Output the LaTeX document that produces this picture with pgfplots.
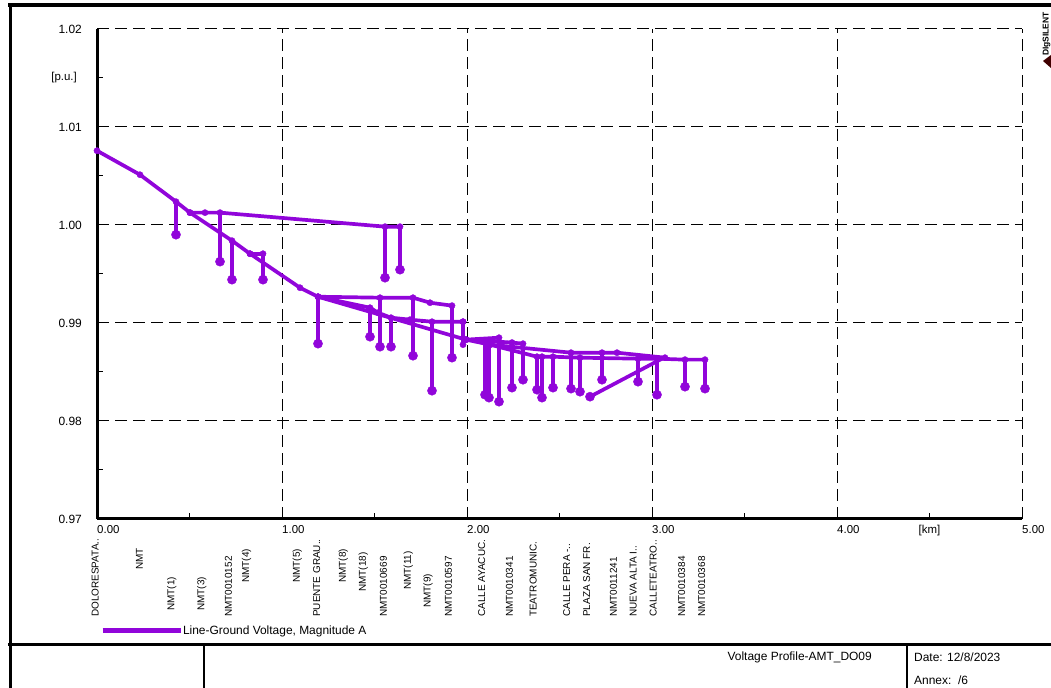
\documentclass[border=0pt]{standalone}
\usepackage{pgfplots}
\pgfplotsset{compat=1.18}
\usepackage{fontspec}
\setmainfont{Liberation Sans}
\definecolor{vcol}{RGB}{145,5,218}
\newcommand\tf{\fontsize{12}{14}\selectfont}
\newcommand\lf{\fontsize{10}{12}\selectfont}
\pgfplotsset{
  ln/.style={forget plot, color=vcol, line width=3.7bp, mark=*, mark size=3.1bp, mark options={line width=0.4bp, solid}},
  dp/.style={ln, mark indices={2}, mark size=4.6bp},
}
\begin{document}
\begin{tikzpicture}[x=1bp,y=1bp]
\useasboundingbox (0,0) rectangle (1051,688);
\begin{axis}[
  at={(97bp,169bp)}, anchor=south west,
  scale only axis, width=925bp, height=490bp,
  xmin=0, xmax=5, ymin=0.97, ymax=1.02,
  clip=false,
  axis x line*=bottom, axis y line*=left,
  axis line style={line width=3bp, black, -},
  xtick={0,1,2,3,4,5}, ytick={0.97,0.98,0.99,1.00,1.01,1.02},
  minor tick num=1,
  tick align=inside,
  major tick length=6bp, minor tick length=6bp,
  tick style={black, line width=1bp},
  xmajorgrids, ymajorgrids,
  major grid style={black, line width=1bp, dash pattern=on 12bp off 6bp},
  xticklabel style={/pgf/number format/fixed, /pgf/number format/fixed zerofill, /pgf/number format/precision=2, /pgf/number format/assume math mode=true, font=\fontsize{11.5}{13}\selectfont, anchor=north west, inner sep=0pt, yshift=-6bp},
  yticklabel style={/pgf/number format/fixed, /pgf/number format/fixed zerofill, /pgf/number format/precision=2, /pgf/number format/assume math mode=true, font=\tf, anchor=east, inner sep=0pt, xshift=-15bp},
  legend style={at={(axis description cs:0,0)}, anchor=west, xshift=3bp, yshift=-112bp, draw=none, fill=none, inner sep=0pt, outer sep=0pt, font=\tf, nodes={inner sep=0pt}, /tikz/every even column/.append style={column sep=5bp}},
  legend image code/.code={\draw[line width=5bp, vcol] (0bp,0bp) -- (78bp,0bp);},
]
% main lines
\addplot[ln] coordinates {(0,1.00758)(0.2324,1.00513)(0.4270,1.00238)(0.5027,1.00126)(0.7297,0.99840)(0.8270,0.99707)(1.0973,0.99360)(1.1946,0.99268)(1.9946,0.98830)(2.1243,0.98779)};
\addplot[ln] coordinates {(0.5027,1.00126)(0.5838,1.00126)(0.6649,1.00126)(1.5568,0.99983)(1.6378,0.99983)};
\addplot[ln] coordinates {(0.8270,0.99707)(0.8973,0.99707)};
\addplot[ln] coordinates {(1.1946,0.99268)(1.5297,0.99258)(1.7081,0.99258)(1.8,0.99207)(1.9189,0.99177)};
\addplot[ln] coordinates {(1.1946,0.99268)(1.4757,0.99156)(1.5189,0.99105)(1.5892,0.99054)(1.6919,0.99034)(1.8108,0.99013)(1.9784,0.99013)};
\addplot[ln] coordinates {(1.9946,0.98830)(2.1730,0.98850)};
\addplot[ln] coordinates {(1.9946,0.98830)(2.2432,0.98800)(2.3027,0.98789)};
\addplot[ln] coordinates {(2.1243,0.98779)(2.5622,0.98697)(2.7297,0.98697)(2.8108,0.98697)(3.0703,0.98646)};
\addplot[ln] coordinates {(2.1243,0.98779)(2.3784,0.98656)(2.4054,0.98656)(2.4649,0.98656)(2.6108,0.98646)(2.9243,0.98636)(3.0270,0.98636)(3.1784,0.98626)(3.2865,0.98626)};
\addplot[ln] coordinates {(1.9784,0.99013)(1.9784,0.98779)};
\addplot[dp] coordinates {(3.0541,0.98636)(2.6649,0.98248)};
% drops
\addplot[dp] coordinates {(0.4270,1.00238)(0.4270,0.99901)};
\addplot[dp] coordinates {(0.6649,1.00126)(0.6649,0.99626)};
\addplot[dp] coordinates {(0.7297,0.99840)(0.7297,0.99442)};
\addplot[dp] coordinates {(0.8973,0.99707)(0.8973,0.99442)};
\addplot[dp] coordinates {(1.5568,0.99983)(1.5568,0.99462)};
\addplot[dp] coordinates {(1.6378,0.99983)(1.6378,0.99544)};
\addplot[dp] coordinates {(1.1946,0.99268)(1.1946,0.98789)};
\addplot[dp] coordinates {(1.5297,0.99258)(1.5297,0.98758)};
\addplot[dp] coordinates {(1.7081,0.99258)(1.7081,0.98666)};
\addplot[dp] coordinates {(1.9189,0.99177)(1.9189,0.98646)};
\addplot[dp] coordinates {(1.4757,0.99156)(1.4757,0.98860)};
\addplot[dp] coordinates {(1.5892,0.99054)(1.5892,0.98758)};
\addplot[dp] coordinates {(1.8108,0.99013)(1.8108,0.98309)};
\addplot[dp] coordinates {(2.0973,0.98789)(2.0973,0.98268)};
\addplot[dp] coordinates {(2.1189,0.98779)(2.1189,0.98238)};
\addplot[dp] coordinates {(2.1730,0.98850)(2.1730,0.98197)};
\addplot[dp] coordinates {(2.2432,0.98800)(2.2432,0.98340)};
\addplot[dp] coordinates {(2.3027,0.98789)(2.3027,0.98421)};
\addplot[dp] coordinates {(2.3784,0.98656)(2.3784,0.98319)};
\addplot[dp] coordinates {(2.4054,0.98656)(2.4054,0.98238)};
\addplot[dp] coordinates {(2.4649,0.98656)(2.4649,0.98340)};
\addplot[dp] coordinates {(2.5622,0.98697)(2.5622,0.98330)};
\addplot[dp] coordinates {(2.6108,0.98646)(2.6108,0.98299)};
\addplot[dp] coordinates {(2.7297,0.98697)(2.7297,0.98421)};
\addplot[dp] coordinates {(2.9243,0.98636)(2.9243,0.98401)};
\addplot[dp] coordinates {(3.0270,0.98636)(3.0270,0.98268)};
\addplot[dp] coordinates {(3.1784,0.98626)(3.1784,0.98350)};
\addplot[dp] coordinates {(3.2865,0.98626)(3.2865,0.98330)};
\addlegendimage{vcol}
\addlegendentry{Line-Ground Voltage, Magnitude A}
% unit labels
\node[anchor=north, inner sep=0pt, font=\fontsize{11.5}{13}\selectfont] at ([yshift=-6bp]axis cs:4.5,0.97) {[km]};
\node[anchor=east, inner sep=0pt, font=\fontsize{11.5}{13}\selectfont] at ([xshift=-20bp]axis cs:0,1.015) {[p.u.]};
% node names
\node[rotate=90, anchor=west, inner sep=0pt, font=\lf] at ([yshift=-98bp]axis cs:-0.01,0.97) {DOLORESPATA..};
\node[rotate=90, anchor=west, inner sep=0pt, font=\lf] at ([yshift=-51bp]axis cs:0.229,0.97) {NMT};
\node[rotate=90, anchor=west, inner sep=0pt, font=\lf] at ([yshift=-92bp]axis cs:0.404,0.97) {NMT(1)};
\node[rotate=90, anchor=west, inner sep=0pt, font=\lf] at ([yshift=-92bp]axis cs:0.566,0.97) {NMT(3)};
\node[rotate=90, anchor=west, inner sep=0pt, font=\lf] at ([yshift=-98bp]axis cs:0.710,0.97) {NMT0010152};
\node[rotate=90, anchor=west, inner sep=0pt, font=\lf] at ([yshift=-64bp]axis cs:0.809,0.97) {NMT(4)};
\node[rotate=90, anchor=west, inner sep=0pt, font=\lf] at ([yshift=-64bp]axis cs:1.083,0.97) {NMT(5)};
\node[rotate=90, anchor=west, inner sep=0pt, font=\lf] at ([yshift=-98bp]axis cs:1.188,0.97) {PUENTE GRAU..};
\node[rotate=90, anchor=west, inner sep=0pt, font=\lf] at ([yshift=-64bp]axis cs:1.331,0.97) {NMT(8)};
\node[rotate=90, anchor=west, inner sep=0pt, font=\lf] at ([yshift=-73bp]axis cs:1.440,0.97) {NMT(18)};
\node[rotate=90, anchor=west, inner sep=0pt, font=\lf] at ([yshift=-98bp]axis cs:1.548,0.97) {NMT0010669};
\node[rotate=90, anchor=west, inner sep=0pt, font=\lf] at ([yshift=-71bp]axis cs:1.683,0.97) {NMT(11)};
\node[rotate=90, anchor=west, inner sep=0pt, font=\lf] at ([yshift=-89bp]axis cs:1.790,0.97) {NMT(9)};
\node[rotate=90, anchor=west, inner sep=0pt, font=\lf] at ([yshift=-98bp]axis cs:1.899,0.97) {NMT0010597};
\node[rotate=90, anchor=west, inner sep=0pt, font=\lf] at ([yshift=-98bp]axis cs:2.080,0.97) {CALLE AYACUC.};
\node[rotate=90, anchor=west, inner sep=0pt, font=\lf] at ([yshift=-98bp]axis cs:2.229,0.97) {NMT0010341};
\node[rotate=90, anchor=west, inner sep=0pt, font=\lf] at ([yshift=-98bp]axis cs:2.358,0.97) {TEATROMUNIC.};
\node[rotate=90, anchor=west, inner sep=0pt, font=\lf] at ([yshift=-98bp]axis cs:2.539,0.97) {CALLE PERA -..};
\node[rotate=90, anchor=west, inner sep=0pt, font=\lf] at ([yshift=-98bp]axis cs:2.647,0.97) {PLAZA SAN FR.};
\node[rotate=90, anchor=west, inner sep=0pt, font=\lf] at ([yshift=-98bp]axis cs:2.791,0.97) {NMT0011241};
\node[rotate=90, anchor=west, inner sep=0pt, font=\lf] at ([yshift=-98bp]axis cs:2.899,0.97) {NUEVA ALTA I..};
\node[rotate=90, anchor=west, inner sep=0pt, font=\lf] at ([yshift=-98bp]axis cs:3.007,0.97) {CALLETEATRO..};
\node[rotate=90, anchor=west, inner sep=0pt, font=\lf] at ([yshift=-98bp]axis cs:3.161,0.97) {NMT0010384};
\node[rotate=90, anchor=west, inner sep=0pt, font=\lf] at ([yshift=-98bp]axis cs:3.269,0.97) {NMT0010368};
\end{axis}
% frame
\draw[line width=4bp] (8,682.5) -- (1051,682.5);
\draw[line width=3bp] (10,684.5) -- (10,0);
\draw[line width=3bp] (8,43) -- (1051,43);
\draw[line width=2.5bp] (204,43) -- (204,0);
\draw[line width=2.5bp] (907,43) -- (907,0);
\node[anchor=east, inner sep=0pt, font=\tf] at (872,31) {Voltage Profile-AMT\_DO09};
\node[anchor=west, inner sep=0pt, font=\tf] at (914,31) {Date: 12/8/2023};
\node[anchor=west, inner sep=0pt, font=\tf] at (914,8) {Annex:\ \ /6};
\node[rotate=90, inner sep=0pt, font=\bfseries\fontsize{8.5}{9}\selectfont] at (1046.5,654) {DIgSILENT};
\fill[black!75!red] (1043,627) -- (1051,633) -- (1051,620) -- cycle;
\end{tikzpicture}
\end{document}
